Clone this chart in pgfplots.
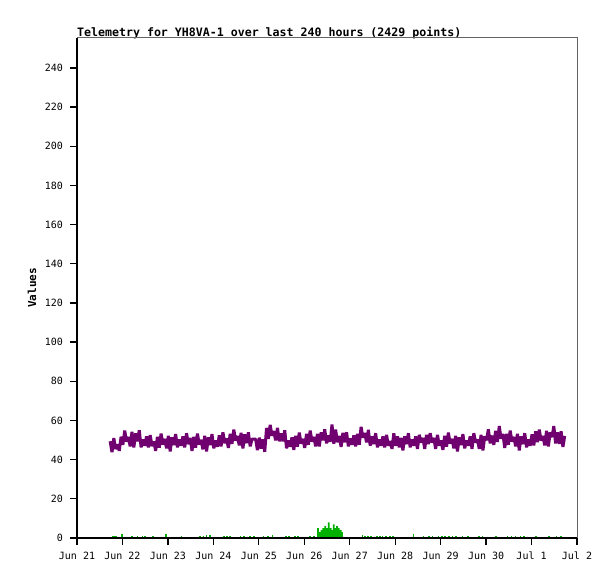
\documentclass[border=0pt]{standalone}
\usepackage{fontspec}
\setmonofont{DejaVu Sans Mono}
\usepackage{pgfplots}
\pgfplotsset{compat=1.18}

\definecolor{telpurple}{RGB}{112,0,112}
\definecolor{telgreen}{RGB}{0,176,0}
\definecolor{framegray}{RGB}{100,100,100}

\begin{document}
\begin{tikzpicture}
\useasboundingbox (-77bp,-41bp) rectangle (538bp,538bp);
\begin{axis}[
    name=ax,
    at={(0,0)}, anchor=south west,
    scale only axis,
    width=500bp, height=500bp,
    xmin=0, xmax=11,
    ymin=0, ymax=255.3,
    axis line style={draw=none},
    xtick pos=bottom,
    ytick pos=left,
    tick align=outside,
    major tick length=7bp,
    tick style={black, line width=1.3bp},
    xtick={0,1,2,3,4,5,6,7,8,9,10,11},
    xticklabels={Jun 21,Jun 22,Jun 23,Jun 24,Jun 25,Jun 26,Jun 27,Jun 28,Jun 29,Jun 30,Jul 1,Jul 2},
    ytick={0,20,40,60,80,100,120,140,160,180,200,220,240},
    yticklabels={0,20,40,60,80,100,120,140,160,180,200,220,240},
    tick label style={font=\ttfamily\fontsize{10bp}{11bp}\selectfont},
    xticklabel style={text height=7.5bp, text depth=1bp, yshift=-3.5bp},
    yticklabel style={xshift=-3.5bp},
    ylabel={Values},
    ylabel style={at={(axis description cs:-0.09,0.5)}, anchor=center,
        font=\ttfamily\bfseries\fontsize{11bp}{12bp}\selectfont},
    title={Telemetry for YH8VA-1 over last 240 hours (2429 points)},
    title style={at={(axis description cs:0,1)}, anchor=south west, inner sep=0pt, yshift=-7bp,
        font=\ttfamily\bfseries\fontsize{11.6bp}{12bp}\selectfont},
]

% green: small blips and the bump on Jun 26
\addplot[telgreen, ycomb, line width=1.6bp] coordinates {
  (0.78,1) (0.82,1) (0.86,1) (0.99,2) (1.21,1) (1.33,1) (1.44,1) (1.50,1)
  (1.67,1) (1.96,2) (2.30,1) (2.70,1) (2.78,1) (2.85,1.5) (2.93,1.5)
  (3.24,1) (3.30,1) (3.36,1) (3.60,1) (3.68,1) (3.80,1) (3.90,1)
  (4.10,1) (4.20,1) (4.30,1.5) (4.60,1) (4.67,1) (4.80,1) (4.86,1)
  (5.12,1) (5.22,1) (6.28,1.5) (6.33,1) (6.40,1) (6.47,1) (6.60,1)
  (6.66,1) (6.72,1) (6.80,1) (6.88,1) (6.95,1) (7.40,2) (7.62,1)
  (7.75,1) (7.82,1) (7.95,1) (8.03,1) (8.10,1) (8.18,1) (8.26,1)
  (8.34,1) (8.48,1) (8.60,1) (8.85,1) (8.92,1) (9.22,1) (9.47,1)
  (9.56,1) (9.65,1) (9.76,1) (9.84,1) (10.10,1) (10.38,1) (10.55,1) (10.65,1)
};
\addplot[fill=telgreen, draw=none, const plot] coordinates {
  (5.28,0) (5.28,5) (5.32,3) (5.36,4) (5.40,5) (5.44,6) (5.48,5)
  (5.52,8) (5.56,5) (5.60,4) (5.63,7) (5.67,5) (5.70,6) (5.74,5)
  (5.78,4) (5.82,3) (5.85,0)
} \closedcycle;

% black series at zero
\addplot[black, line width=2.4bp] coordinates {(0.73,0) (10.73,0)};

% purple series
\addplot[telpurple, line width=3bp, line join=bevel] table {
0.73 49.4
0.77 43.8
0.81 51.0
0.85 45.4
0.89 47.8
0.93 44.5
0.97 51.7
1.01 47.6
1.05 54.8
1.09 49.2
1.13 51.6
1.17 46.8
1.21 54.2
1.25 46.2
1.29 53.4
1.33 49.4
1.37 55.0
1.41 46.3
1.45 50.3
1.49 47.1
1.53 51.9
1.57 46.3
1.61 52.5
1.65 46.9
1.69 49.3
1.73 44.5
1.77 51.7
1.81 46.1
1.85 53.3
1.89 47.7
1.93 50.6
1.97 45.8
2.01 52.2
2.05 44.2
2.09 51.4
2.13 47.4
2.17 53.0
2.21 46.3
2.25 50.3
2.29 47.1
2.33 51.9
2.37 46.3
2.41 53.5
2.45 47.9
2.49 51.1
2.53 44.5
2.57 51.7
2.61 46.1
2.65 53.3
2.69 47.7
2.73 50.1
2.77 45.3
2.81 52.2
2.85 44.2
2.89 51.4
2.93 47.4
2.97 53.0
3.01 45.8
3.05 49.8
3.09 46.6
3.13 52.4
3.17 46.8
3.21 54.0
3.25 48.4
3.29 50.8
3.33 46.0
3.37 53.2
3.41 48.1
3.45 55.3
3.49 49.7
3.53 52.1
3.57 47.3
3.61 53.7
3.65 45.7
3.69 52.9
3.73 48.4
3.77 54.0
3.81 46.8
3.85 50.5
3.89 50.5
3.93 50.5
3.97 44.8
4.01 51.2
4.05 45.6
4.09 50.4
4.13 44.0
4.17 56.2
4.21 50.6
4.25 57.8
4.29 52.2
4.33 54.6
4.37 49.8
4.41 56.2
4.45 49.4
4.49 53.4
4.53 49.4
4.57 55.0
4.61 45.8
4.65 49.8
4.69 46.6
4.73 51.4
4.77 45.0
4.81 52.2
4.85 46.6
4.89 53.8
4.93 48.2
4.97 50.6
5.01 46.0
5.05 53.2
5.09 47.6
5.13 54.8
5.17 49.2
5.21 51.6
5.25 46.8
5.29 53.2
5.33 46.7
5.37 53.9
5.41 49.9
5.45 55.5
5.49 48.3
5.53 52.3
5.57 49.1
5.61 57.9
5.65 48.1
5.69 55.3
5.73 48.9
5.77 52.1
5.81 46.5
5.85 53.7
5.89 48.9
5.93 54.0
5.97 46.8
6.01 50.8
6.05 47.6
6.09 52.4
6.13 46.8
6.17 53.2
6.21 47.6
6.25 56.8
6.29 51.2
6.33 53.6
6.37 48.8
6.41 55.2
6.45 47.2
6.49 51.9
6.53 47.9
6.57 53.5
6.61 46.3
6.65 50.3
6.69 47.1
6.73 51.9
6.77 46.3
6.81 52.7
6.85 47.1
6.89 49.5
6.93 45.5
6.97 53.5
7.01 47.1
7.05 51.9
7.09 46.3
7.13 51.1
7.17 44.7
7.21 51.9
7.25 47.9
7.29 53.5
7.33 46.3
7.37 50.3
7.41 47.1
7.45 51.9
7.49 45.5
7.53 52.7
7.57 48.7
7.61 51.1
7.65 45.5
7.69 52.7
7.73 47.9
7.77 53.5
7.81 48.7
7.85 51.1
7.89 45.5
7.93 52.7
7.97 47.1
8.01 49.8
8.05 45.0
8.09 52.2
8.13 46.6
8.17 53.8
8.21 48.2
8.25 50.6
8.29 45.8
8.33 52.2
8.37 44.2
8.41 51.4
8.45 47.4
8.49 53.0
8.53 45.8
8.57 49.8
8.61 47.1
8.65 51.9
8.69 45.5
8.73 53.5
8.77 48.7
8.81 50.3
8.85 45.5
8.89 52.7
8.93 44.7
8.97 51.9
9.01 49.9
9.05 55.5
9.09 48.3
9.13 52.3
9.17 47.5
9.21 54.7
9.25 49.1
9.29 57.1
9.33 50.7
9.37 53.1
9.41 46.0
9.45 53.2
9.49 47.6
9.53 54.8
9.57 49.2
9.61 51.6
9.65 46.8
9.69 53.2
9.73 44.7
9.77 51.9
9.81 47.9
9.85 53.5
9.89 46.3
9.93 50.3
9.97 47.1
10.01 52.9
10.05 47.3
10.09 54.5
10.13 48.9
10.17 55.3
10.21 49.7
10.25 52.1
10.29 47.3
10.33 54.7
10.37 46.7
10.41 53.9
10.45 51.5
10.49 57.1
10.53 48.3
10.57 53.9
10.61 48.1
10.65 54.5
10.69 46.5
10.73 52.1
};
\end{axis}
% frame: black on the left and bottom, grey on the top and right
\draw[framegray, line width=1bp] (ax.north west) -- (ax.north east) -- (ax.south east);
\draw[black, line width=1.3bp] (ax.north west) -- (ax.south west) -- (ax.south east);
\end{tikzpicture}
\end{document}
